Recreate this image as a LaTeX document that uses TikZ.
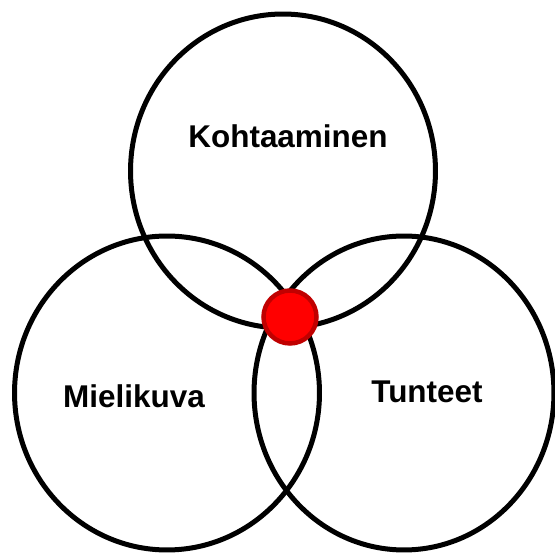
\documentclass[tikz,border=0pt]{standalone}
\usepackage{fontspec}
\setmainfont{Liberation Sans}
\usetikzlibrary{positioning, shapes.geometric}
\definecolor{dotred}{RGB}{255,0,0}
\definecolor{dotrim}{RGB}{192,0,0}
\tikzset{
    ring/.style={ellipse, draw=black, line width=0.1cm, inner sep=0pt,
        minimum width=6.1cm, minimum height=6.28cm},
    tag/.style={font=\fontsize{17.9}{20}\selectfont\bfseries, inner sep=0pt},
    hub/.style={circle, fill=dotred, draw=dotrim, line width=0.09cm,
        inner sep=0pt, minimum size=1.06cm}
}

\begin{document}
\begin{tikzpicture}[x=0.02cm, y=-0.02cm]
    \useasboundingbox (0,0) rectangle (555,553);
    % three overlapping circles
    \node[ring] (kohta) at (283,171) {};
    \node[ring] (mieli) at (167,393) {};
    \node[ring, minimum width=6.0cm] (tunne) at (404,393) {};

    \node[tag] (kohtaT) at (288,136) {Kohtaaminen};
    \node[tag] (mieliT) at (134,396) {Mielikuva};
    \node[tag] (tunneT) at (427,392) {Tunteet};

    % meeting point
    \node[hub] (keski) at (290,317) {};
\end{tikzpicture}
\end{document}
